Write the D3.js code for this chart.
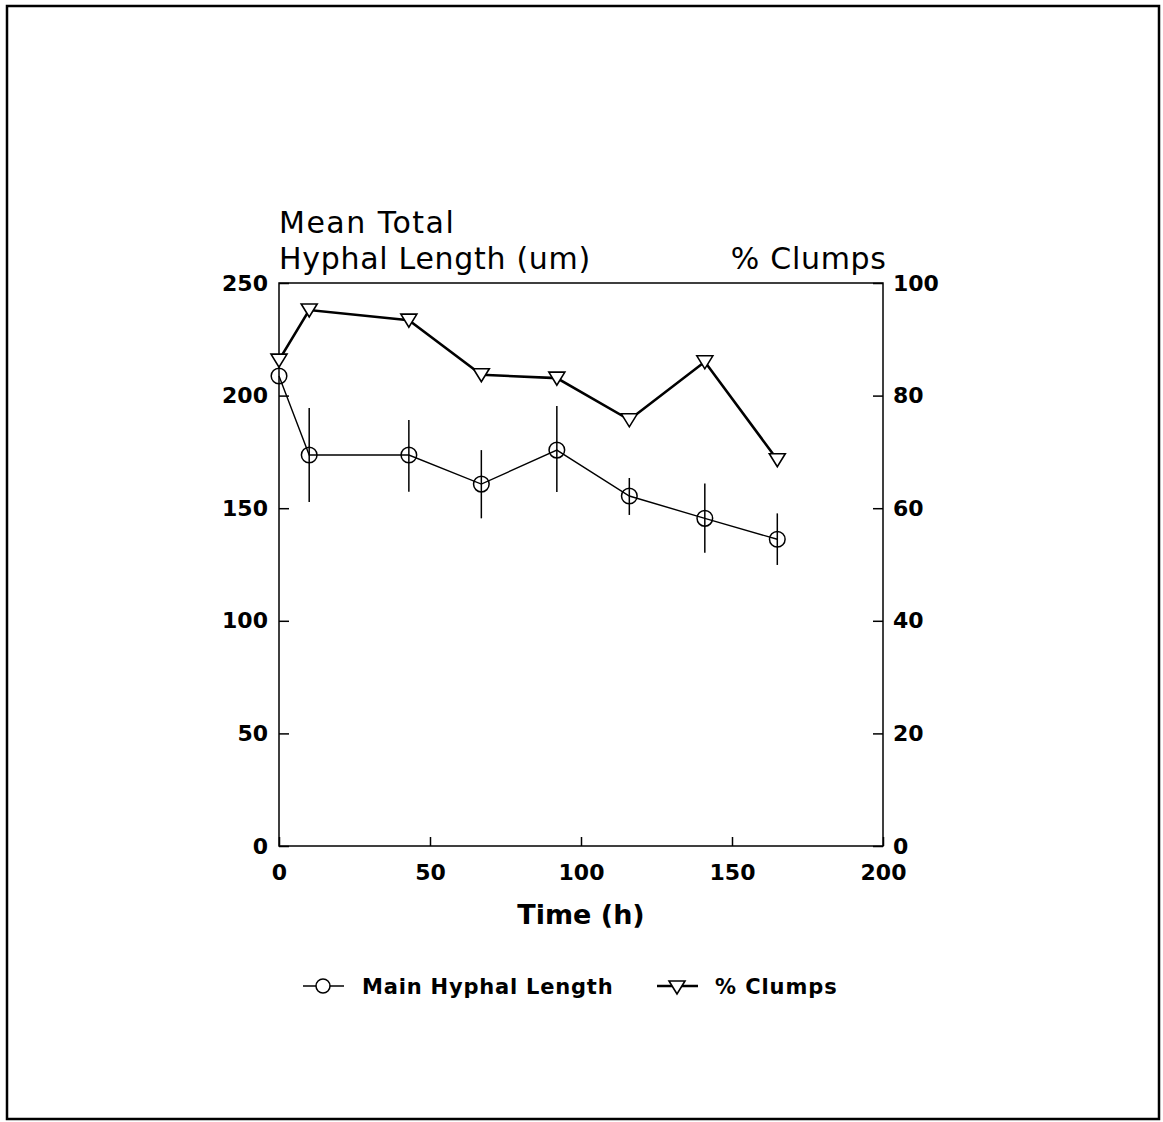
<!DOCTYPE html>
<html>
<head>
<meta charset="utf-8">
<script src="https://cdn.jsdelivr.net/npm/d3@7"></script>
<style>
  html, body { margin: 0; padding: 0; background: #fff; }
  svg { display: block; font-family: "DejaVu Sans", sans-serif; }
</style>
</head>
<body>
<svg id="chart" width="1163" height="1122"></svg>
<script>
// Sampling times (h)
const times = [0, 10, 43, 67, 92, 116, 141, 165];
// Mean total hyphal length (um) with error bar limits
const hyphalLength = [208.7, 173.6, 173.6, 160.7, 175.8, 155.4, 145.5, 136.2];
const hyphalLow    = [null, 152.8, 157.3, 145.5, 157.2, 147.0, 130.2, 124.8];
const hyphalHigh   = [null, 194.5, 189.2, 175.8, 195.4, 163.4, 161.0, 147.7];
// Percentage of clumps
const clumps = [86.3, 95.2, 93.4, 83.7, 83.1, 75.7, 86.0, 68.6];

const xTicks = [0, 50, 100, 150, 200];
const yLeftTicks = [0, 50, 100, 150, 200, 250];
const yRightTicks = [0, 20, 40, 60, 80, 100];

const svg = d3.select("#chart");

// outer frame
svg.append("rect")
  .attr("x", 7).attr("y", 6).attr("width", 1152).attr("height", 1113)
  .attr("fill", "none").attr("stroke", "#000").attr("stroke-width", 2.5);

const plot = { left: 279, right: 883, top: 283, bottom: 846 };

const x = d3.scaleLinear().domain([0, 200]).range([plot.left, plot.right]);
const yL = d3.scaleLinear().domain([0, 250]).range([plot.bottom, plot.top]);
const yR = d3.scaleLinear().domain([0, 100]).range([plot.bottom, plot.top]);

// plot box
svg.append("rect")
  .attr("x", plot.left).attr("y", plot.top)
  .attr("width", plot.right - plot.left).attr("height", plot.bottom - plot.top)
  .attr("fill", "none").attr("stroke", "#000").attr("stroke-width", 1.5);

const tickFont = "bold 22px 'DejaVu Sans', sans-serif";

function styleTicks(g) {
  g.select(".domain").remove();
  g.selectAll("line").attr("stroke-width", 1.5);
  g.selectAll("text").style("font", tickFont).attr("fill", "#000");
}

// x axis (ticks pointing inward)
svg.append("g").attr("transform", `translate(0,${plot.bottom})`)
  .call(d3.axisBottom(x).tickValues(xTicks).tickSizeInner(-9).tickSizeOuter(0).tickPadding(18))
  .call(styleTicks);

// left y axis
svg.append("g").attr("transform", `translate(${plot.left},0)`)
  .call(d3.axisLeft(yL).tickValues(yLeftTicks).tickSizeInner(-10).tickSizeOuter(0).tickPadding(11))
  .call(styleTicks);

// right y axis
svg.append("g").attr("transform", `translate(${plot.right},0)`)
  .call(d3.axisRight(yR).tickValues(yRightTicks).tickSizeInner(-10).tickSizeOuter(0).tickPadding(10))
  .call(styleTicks);

// axis titles
const titleFont = "30px 'DejaVu Sans', sans-serif";
const titleLS = 0.7;
svg.append("text").attr("x", plot.left).attr("y", 233)
  .style("font", titleFont).style("letter-spacing", "1.5px").text("Mean Total");
svg.append("text").attr("x", plot.left).attr("y", 269)
  .style("font", titleFont).style("letter-spacing", titleLS + "px").text("Hyphal Length (um)");
svg.append("text").attr("x", 886 + titleLS).attr("y", 269).attr("text-anchor", "end")
  .style("font", titleFont).style("letter-spacing", titleLS + "px").text("% Clumps");
svg.append("text").attr("x", 581).attr("y", 924).attr("text-anchor", "middle")
  .style("font", "bold 27px 'DejaVu Sans', sans-serif")
  .text("Time (h)");

// data rows
const rows = times.map((t, i) => ({
  t, len: hyphalLength[i], lo: hyphalLow[i], hi: hyphalHigh[i], clump: clumps[i]
}));

// error bars
svg.append("g").selectAll("line").data(rows.filter(d => d.lo !== null)).join("line")
  .attr("x1", d => x(d.t)).attr("x2", d => x(d.t))
  .attr("y1", d => yL(d.lo)).attr("y2", d => yL(d.hi))
  .attr("stroke", "#000").attr("stroke-width", 1.5);

// hyphal length line
svg.append("path").datum(rows)
  .attr("d", d3.line().x(d => x(d.t)).y(d => yL(d.len)))
  .attr("fill", "none").attr("stroke", "#000").attr("stroke-width", 1.4);

svg.append("g").selectAll("circle").data(rows).join("circle")
  .attr("cx", d => x(d.t)).attr("cy", d => yL(d.len)).attr("r", 7.8)
  .attr("fill", "none").attr("stroke", "#000").attr("stroke-width", 1.5);

// clumps line
svg.append("path").datum(rows)
  .attr("d", d3.line().x(d => x(d.t)).y(d => yR(d.clump)))
  .attr("fill", "none").attr("stroke", "#000").attr("stroke-width", 2.6);

const tri = (cx, cy) => `M${cx - 8},${cy - 6} L${cx + 8},${cy - 6} L${cx},${cy + 7} Z`;
svg.append("g").selectAll("path").data(rows).join("path")
  .attr("d", d => tri(x(d.t), yR(d.clump)))
  .attr("fill", "#fff").attr("stroke", "#000").attr("stroke-width", 1.6);

// legend
const legFont = "bold 21px 'DejaVu Sans', sans-serif";
const leg = svg.append("g");
leg.append("line").attr("x1", 303).attr("x2", 344).attr("y1", 986).attr("y2", 986)
  .attr("stroke", "#000").attr("stroke-width", 1.4);
leg.append("circle").attr("cx", 323).attr("cy", 986).attr("r", 7)
  .attr("fill", "#fff").attr("stroke", "#000").attr("stroke-width", 1.5);
leg.append("text").attr("x", 362).attr("y", 994)
  .style("font", legFont).style("letter-spacing", "0.8px").text("Main Hyphal Length");

leg.append("line").attr("x1", 657).attr("x2", 698).attr("y1", 986).attr("y2", 986)
  .attr("stroke", "#000").attr("stroke-width", 2.6);
leg.append("path").attr("d", tri(677, 987))
  .attr("fill", "#fff").attr("stroke", "#000").attr("stroke-width", 1.6);
leg.append("text").attr("x", 715).attr("y", 994)
  .style("font", legFont).style("letter-spacing", "0.9px").text("% Clumps");
</script>
</body>
</html>
